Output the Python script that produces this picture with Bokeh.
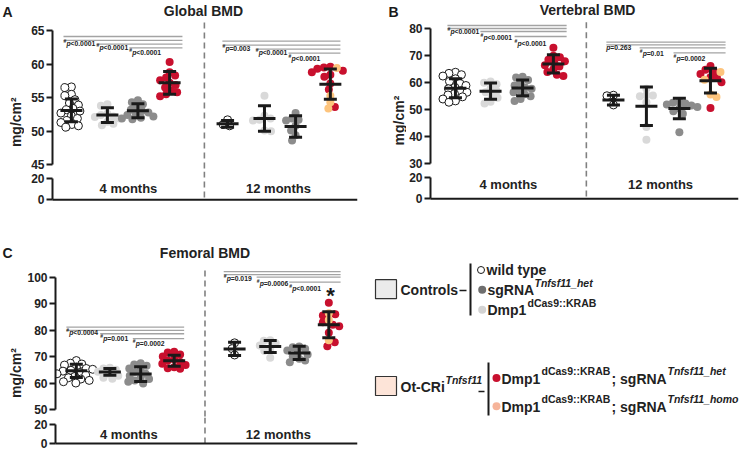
import numpy as np
from math import pi
from bokeh.plotting import figure
from bokeh.layouts import column, row
from bokeh.models import Range1d, FixedTicker
from bokeh.embed import file_html
from bokeh.resources import INLINE
from bokeh.core.properties import value

FONT = "Liberation Sans"
INK = "#1a1a1a"
TXT = "#222222"

# ------------------------------------------------------------------ data
AGES = ["4 months", "12 months"]

# Panel A - Global BMD (mg/cm2); order per age: wild type, Dmp1 dCas9::KRAB, sgRNA het, Ot-CRi
A_WT_4 = [56.6, 56.5, 55.5, 55.3, 54.7, 54.2, 53.9, 53.4, 53.2, 53.0, 52.7, 52.3, 51.9, 51.6, 51.3, 51.0, 50.8, 50.6]
A_LG_4 = [54.0, 53.8, 52.6, 52.4, 52.2, 52.1, 51.9, 51.4, 51.1, 50.9]
A_DG_4 = [54.6, 54.3, 54.0, 53.6, 53.2, 53.0, 52.8, 52.6, 52.4, 52.2, 52.0, 51.9, 51.8]
A_RD_4 = [60.3, 58.8, 58.3, 58.0, 57.6, 57.2, 56.9, 56.5, 56.1, 55.8, 55.5, 55.2]
A_WT_12 = [51.7, 51.0, 50.8]
A_LG_12 = [55.3, 52.3, 51.9, 51.7, 51.6, 50.1, 50.0]
A_DG_12 = [52.7, 51.9, 51.7, 51.6, 50.8, 50.1, 49.4, 48.6]
A_RD_12 = [59.6, 59.5, 59.3, 59.0, 58.8, 58.4, 58.1, 57.1, 56.2, 53.6]
A_OR_12 = [59.4, 55.3, 54.3, 53.4]
A_MEAN = [53.1, 52.4, 53.05, 57.2, 51.1, 51.9, 50.7, 57.0]
A_SD = [1.7, 1.1, 1.05, 1.7, 0.5, 1.9, 1.6, 2.25]
A_P_4M = ["<0.0001", "<0.0001", "<0.0001"]
A_P_12M = ["=0.003", "<0.0001", "<0.0001"]

# Panel B - Vertebral BMD
B_WT_4 = [63.9, 63.5, 63.0, 62.5, 61.5, 60.5, 59.8, 59.0, 58.3, 57.8, 57.0, 56.5, 56.0, 55.5, 54.8, 54.0, 53.3, 52.8]
B_LG_4 = [60.5, 60.0, 59.5, 58.0, 57.0, 56.5, 55.5, 54.5, 53.0, 52.3]
B_DG_4 = [62.2, 62.0, 61.0, 60.0, 59.0, 58.3, 57.8, 57.2, 56.5, 55.8, 55.0, 54.0, 53.3]
B_RD_4 = [73.0, 70.0, 69.5, 68.5, 68.0, 67.5, 66.5, 66.0, 65.0, 64.0, 63.0, 62.5]
B_WT_12 = [55.4, 55.2, 51.8]
B_LG_12 = [57.8, 55.4, 55.3, 55.0, 52.8, 43.6, 38.9]
B_DG_12 = [53.0, 52.6, 52.3, 52.0, 51.6, 51.0, 50.5, 49.5, 48.5, 41.7]
B_RD_12 = [66.2, 64.8, 64.3, 63.3, 62.1, 61.8, 60.2, 50.7]
B_OR_12 = [64.0, 61.1, 55.7, 54.7]
B_MEAN = [58.0, 56.9, 58.1, 67.0, 53.6, 51.3, 50.5, 60.8]
B_SD = [3.5, 3.0, 2.9, 3.4, 1.8, 7.1, 3.8, 4.6]
B_P_4M = ["<0.0001", "<0.0001", "<0.0001"]
B_P_12M = ["=0.263", "=0.01", "=0.0002"]
B_P_12M_HASH = [False, True, True]

# Panel C - Femoral BMD
C_WT_4 = [68.5, 67.5, 67.2, 66.8, 66.0, 65.5, 65.2, 64.8, 64.5, 64.0, 63.5, 63.0, 62.5, 62.0, 61.5, 61.0, 60.5, 60.0]
C_LG_4 = [65.8, 65.5, 65.0, 64.3, 63.5, 62.8, 62.0, 61.6]
C_DG_4 = [67.5, 67.0, 66.5, 65.5, 65.0, 64.2, 63.5, 62.8, 62.0, 61.5, 61.0, 60.5, 59.8]
C_RD_4 = [71.8, 71.5, 70.8, 70.0, 69.0, 68.5, 68.0, 67.3, 66.8, 66.0, 65.6, 65.4]
C_WT_12 = [75.2, 73.0, 70.6]
C_LG_12 = [76.2, 76.0, 75.0, 74.2, 73.0, 72.2, 69.6]
C_DG_12 = [73.8, 73.5, 73.0, 72.3, 71.5, 70.8, 70.0, 69.2, 68.5, 67.9]
C_RD_12 = [90.3, 86.0, 85.5, 83.0, 82.0, 81.5, 79.0, 75.4, 73.9]
C_OR_12 = [86.4, 83.8, 76.2]
C_MEAN = [64.6, 64.2, 63.4, 68.4, 72.9, 73.8, 71.4, 82.0]
C_SD = [2.5, 1.25, 2.8, 2.1, 2.5, 2.3, 2.5, 4.9]
C_P_4M = ["<0.0004", "=0.001", "=0.0002"]
C_P_12M = ["=0.019", "=0.0006", "<0.0001"]

A_TICKS = [45, 50, 55, 60, 65]
B_TICKS = [30, 40, 50, 60, 70, 80]
C_TICKS = [50, 60, 70, 80, 90, 100]
LOW_TICKS = [0, 20]

# ------------------------------------------------------------------ colours
COL_WT = "white"
COL_LG = "#d9d9d9"
COL_DG = "#8c8c8c"
COL_RD = "#c8102e"
COL_OR = "#fdc47d"
PLINE = "#a3a3a3"


def swarm(vals, kx, ky, sep=6.2):
    """deterministic beeswarm offsets (in x data units)"""
    vals = np.asarray(vals, float)
    ys = vals * ky
    order = np.argsort(-vals, kind="stable")
    cands = [0.0]
    for s in np.arange(0.5, 40, 0.5):
        cands += [s, -s]
    placed, off = [], np.zeros(len(vals))
    for n, i in enumerate(order):
        cc = cands if n % 2 == 0 else [-c for c in cands]
        for c in cc:
            if all((c - px) ** 2 + (ys[i] - py) ** 2 >= sep * sep for px, py in placed):
                off[i] = c
                placed.append((c, ys[i]))
                break
    return off / kx


def base_fig(w, h, left, right, yr):
    p = figure(width=w, height=h, x_range=Range1d(0, 10), y_range=Range1d(*yr),
               output_backend="svg", toolbar_location=None, x_axis_location=None,
               min_border_left=left, min_border_right=right, min_border_top=0, min_border_bottom=0)
    p.grid.visible = False
    p.outline_line_color = None
    return p


def style_y(p, ticks):
    ax = p.yaxis[0]
    ax.ticker = FixedTicker(ticks=ticks)
    ax.bounds = (ticks[0], ticks[-1])
    ax.axis_line_width = 2
    ax.axis_line_color = INK
    ax.major_tick_line_width = 2
    ax.major_tick_line_color = INK
    ax.major_tick_out = 6
    ax.major_tick_in = 0
    ax.minor_tick_line_color = None
    ax.major_label_text_font = FONT
    ax.major_label_text_font_style = "bold"
    ax.major_label_text_font_size = "12px"
    ax.major_label_text_color = TXT
    ax.major_label_standoff = 2


def ptext(p, x, y, hashmark, rest):
    xo = 0.0
    if hashmark:
        p.text(x=[x], y=[y], text=["#"], y_offset=-2.5, text_font=value(FONT),
               text_font_size=value("5px"), text_font_style="bold", text_color=TXT,
               text_align="left", text_baseline="middle")
        xo = 3.0
    p.text(x=[x], y=[y], text=["p"], x_offset=xo, text_font=value(FONT),
           text_font_size=value("6.8px"), text_font_style="bold italic", text_color=TXT,
           text_align="left", text_baseline="middle")
    p.text(x=[x], y=[y], text=[rest], x_offset=xo + 4.0, text_font=value(FONT),
           text_font_size=value("6.8px"), text_font_style="bold", text_color=TXT,
           text_align="left", text_baseline="middle")


def label_fig(w, h, letter, lx, ly, lbase, ylx, yly):
    """narrow strip left of a panel holding the panel letter and the y-axis title"""
    p = figure(width=w, height=h, x_range=Range1d(0, w), y_range=Range1d(h, 0),
               output_backend="svg", toolbar_location=None, x_axis_location=None, y_axis_location=None,
               min_border_left=0, min_border_right=0, min_border_top=0, min_border_bottom=0)
    p.grid.visible = False
    p.outline_line_color = None
    p.text(x=[lx], y=[ly], text=[letter], text_font=value(FONT), text_font_size=value("14px"),
           text_font_style="bold", text_color=INK, text_align="left", text_baseline=lbase)
    p.text(x=[ylx], y=[yly], text=["mg/cm²"], angle=pi / 2, text_font=value(FONT),
           text_font_size=value("14px"), text_font_style="bold", text_color=TXT,
           text_align="center", text_baseline="middle")
    return p


def build_panel(S):
    top = base_fig(S["w"], S["top_h"], S["left"], S["right"], S["top_yr"])
    bot = base_fig(S["w"], S["bot_h"], S["left"], S["right"], S["bot_yr"])
    style_y(top, S["ticks"])
    style_y(bot, LOW_TICKS)

    kx = (S["w"] - S["left"] - S["right"]) / 10.0
    ky = S["top_h"] / (S["top_yr"][1] - S["top_yr"][0])

    # dashed separator
    top.segment(x0=[S["dash_x"]], y0=[S["dash_top"]], x1=[S["dash_x"]], y1=[S["top_yr"][0]],
                line_color="#808080", line_width=1.6, line_dash="6 4")
    bot.segment(x0=[S["dash_x"]], y0=[S["bot_yr"][1]], x1=[S["dash_x"]], y1=[0],
                line_color="#808080", line_width=1.6, line_dash="6 4")

    # points (beeswarm)
    for gx, parts in zip(S["gx"], S["groups"]):
        vals, cols = [], []
        for v, c in parts:
            vals += list(v)
            cols += [c] * len(v)
        off = swarm(vals, kx, ky)
        vals = np.array(vals)
        cols = np.array(cols)
        for c in dict.fromkeys(cols):
            m = cols == c
            if c == COL_WT:
                top.scatter(x=gx + off[m], y=vals[m], size=8, fill_color="white",
                            line_color=INK, line_width=1)
            else:
                top.scatter(x=gx + off[m], y=vals[m], size=8, fill_color=c, line_color=None)

    # mean +/- SD
    gxs = np.array(S["gx"])
    mean = np.array(S["mean"])
    sd = np.array(S["sd"])
    top.segment(x0=gxs, y0=mean - sd, x1=gxs, y1=mean + sd, line_color=INK, line_width=3)
    top.rect(x=gxs, y=mean, width=22, height=3, width_units="screen", height_units="screen",
             fill_color=INK, line_color=None)
    top.rect(x=np.concatenate([gxs, gxs]), y=np.concatenate([mean + sd, mean - sd]),
             width=13, height=3, width_units="screen", height_units="screen",
             fill_color=INK, line_color=None)

    # p-value brackets
    for blk in S["pblocks"]:
        top.segment(x0=blk["lx0"], y0=blk["ly"], x1=[blk["lx1"]] * len(blk["ly"]), y1=blk["ly"],
                    line_color=PLINE, line_width=1.3)
        for x, y, h, r in zip(blk["tx"], blk["ty"], blk["hash"], blk["txt"]):
            ptext(top, x, y, h, r)

    # title
    top.text(x=[S["title_x"]], y=[S["title_y"]], text=[S["title"]],
             text_font=value(FONT), text_font_size=value("14px"), text_font_style="bold",
             text_color=TXT, text_align="center", text_baseline=S["title_base"])
    if "star" in S:
        top.text(x=[S["star"][0]], y=[S["star"][1]], text=["*"], text_font=value(FONT),
                 text_font_size=value("22px"), text_font_style="bold", text_color=INK,
                 text_align="center", text_baseline="middle")

    # x axis line and age labels
    bot.segment(x0=[-0.13], y0=[0], x1=[10], y1=[0], line_color=INK, line_width=2)
    bot.text(x=S["month_x"], y=[S["month_y"]] * 2, text=AGES, text_font=value(FONT),
             text_font_size=value("13px"), text_font_style="bold", text_color=TXT,
             text_align="center", text_baseline="middle")

    strip = label_fig(S["lab_w"], S["top_h"] + S["bot_h"], S["letter"], S["letter_x"], S["letter_y"],
                      S["letter_base"], S["ylab_x"], S["ylab_y"])
    return row(strip, column(top, bot, spacing=0), spacing=0)


SPEC_A = dict(
    lab_w=24, w=342, left=28, right=9, top_h=171, bot_h=37,
    top_yr=(44.0, 69.468), bot_yr=(-8.06, 26.2), ticks=A_TICKS,
    gx=[0.62, 1.80, 2.80, 3.84, 5.74, 6.95, 7.97, 9.11], dash_x=4.98, dash_top=66.19,
    groups=[[(A_WT_4, COL_WT)], [(A_LG_4, COL_LG)], [(A_DG_4, COL_DG)], [(A_RD_4, COL_RD)],
            [(A_WT_12, COL_WT)], [(A_LG_12, COL_LG)], [(A_DG_12, COL_DG)],
            [(A_RD_12, COL_RD), (A_OR_12, COL_OR)]],
    mean=A_MEAN, sd=A_SD,
    pblocks=[dict(ly=[64.11, 63.54, 62.97, 62.41], lx0=[0.36, 0.36, 1.44, 2.52], lx1=4.26,
                  tx=[0.36, 1.44, 2.52], ty=[62.99, 62.42, 61.72], hash=[True] * 3, txt=A_P_4M),
             dict(ly=[63.41, 62.81, 62.22, 61.62], lx0=[5.57, 5.57, 6.66, 7.74], lx1=9.44,
                  tx=[5.57, 6.66, 7.74], ty=[62.35, 61.65, 60.76], hash=[True] * 3, txt=A_P_12M)],
    title="Global BMD", title_x=4.95, title_y=69.17, title_base="top",
    letter="A", letter_x=2, letter_y=3, letter_base="top", ylab_x=15, ylab_y=121.7,
    month_x=[2.49, 7.41], month_y=10.46)

SPEC_B = dict(
    lab_w=40, w=342, left=24, right=10, top_h=170, bot_h=38,
    top_yr=(27.52, 90.48), bot_yr=(-8.98, 26.2), ticks=B_TICKS,
    gx=[0.81, 1.95, 2.99, 3.99, 5.94, 7.01, 8.08, 9.09], dash_x=5.06, dash_top=82.4,
    groups=[[(B_WT_4, COL_WT)], [(B_LG_4, COL_LG)], [(B_DG_4, COL_DG)], [(B_RD_4, COL_RD)],
            [(B_WT_12, COL_WT)], [(B_LG_12, COL_LG)], [(B_DG_12, COL_DG)],
            [(B_RD_12, COL_RD), (B_OR_12, COL_OR)]],
    mean=B_MEAN, sd=B_SD,
    pblocks=[dict(ly=[81.22, 80.11, 79.0, 77.15], lx0=[0.55, 0.55, 1.62, 2.73], lx1=4.42,
                  tx=[0.55, 1.62, 2.73], ty=[79.11, 76.89, 74.67], hash=[True] * 3, txt=B_P_4M),
             dict(ly=[75.04, 74.07, 72.96, 71.11], lx0=[5.71, 5.71, 6.79, 7.89], lx1=9.58,
                  tx=[5.71, 6.79, 7.89], ty=[73.19, 70.74, 68.89], hash=B_P_12M_HASH, txt=B_P_12M)],
    title="Vertebral BMD", title_x=5.10, title_y=89.74, title_base="top",
    letter="B", letter_x=22, letter_y=3, letter_base="top", ylab_x=32, ylab_y=120,
    month_x=[2.53, 7.47], month_y=12.96)

SPEC_C = dict(
    lab_w=24, w=342, left=28, right=9, top_h=209, bot_h=33,
    top_yr=(46.98, 125.96), bot_yr=(-7.37, 27.37), ticks=C_TICKS,
    gx=[0.69, 1.80, 2.82, 3.93, 5.93, 7.11, 8.07, 9.05], dash_x=4.95, dash_top=102.5,
    groups=[[(C_WT_4, COL_WT)], [(C_LG_4, COL_LG)], [(C_DG_4, COL_DG)], [(C_RD_4, COL_RD)],
            [(C_WT_12, COL_WT)], [(C_LG_12, COL_LG)], [(C_DG_12, COL_DG)],
            [(C_RD_12, COL_RD), (C_OR_12, COL_OR)]],
    mean=C_MEAN, sd=C_SD,
    pblocks=[dict(ly=[81.12, 79.93, 78.62, 76.75], lx0=[0.36, 0.36, 1.48, 2.56], lx1=4.26,
                  tx=[0.36, 1.48, 2.56], ty=[79.10, 77.01, 74.89], hash=[True] * 3, txt=C_P_4M),
             dict(ly=[102.13, 101.0, 100.0, 98.13], lx0=[5.57, 5.57, 6.66, 7.74], lx1=9.44,
                  tx=[5.57, 6.66, 7.74], ty=[99.40, 97.76, 95.67], hash=[True] * 3, txt=C_P_12M)],
    title="Femoral BMD", title_x=4.95, title_y=109.2, title_base="middle",
    letter="C", letter_x=2, letter_y=44, letter_base="middle", ylab_x=15, ylab_y=164.5,
    month_x=[2.43, 7.38], month_y=9.47, star=(9.11, 93.0))

panel_a = build_panel(SPEC_A)
panel_b = build_panel(SPEC_B)
panel_c = build_panel(SPEC_C)

# ------------------------------------------------------------------ legend
L = figure(width=382, height=242, x_range=Range1d(0, 382), y_range=Range1d(242, 0),
           output_backend="svg", toolbar_location=None, x_axis_location=None, y_axis_location=None,
           min_border_left=0, min_border_right=0, min_border_top=0, min_border_bottom=0)
L.grid.visible = False
L.outline_line_color = None

L.rect(x=[19.5, 19.5], y=[80.7, 177.5], width=21, height=19,
       fill_color=["#ebebeb", "#fde4d8"], line_color="#333333", line_width=1.2)
L.segment(x0=[93, 104, 112, 122], y0=[82, 55, 183, 154], x1=[100, 104, 118, 122], y1=[82, 107, 183, 207],
          line_color=INK, line_width=[1.4, 2, 1.4, 2])
L.scatter(x=[114.5], y=[61.5], size=7, fill_color="white", line_color=INK, line_width=1)
L.scatter(x=[115.7, 115.7, 130, 130], y=[81.3, 101.3, 169.5, 197.7], size=8,
          fill_color=["#6e6e6e", "#d3d3d3", COL_RD, "#f6b49a"], line_color=None)


def ltext(x, y, s, size="14px", style="bold"):
    L.text(x=[x], y=[y], text=[s], text_font=value(FONT), text_font_size=value(size),
           text_font_style=style, text_color=TXT, text_align="left", text_baseline="middle")


ltext(34, 81, "Controls")
ltext(120, 61, "wild type")
ltext(121, 81.5, "sgRNA")
ltext(168, 74.5, "Tnfsf11_het", "10.5px", "bold italic")
ltext(121, 101.5, "Dmp1")
ltext(161, 94.5, "dCas9::KRAB", "10.5px")
ltext(34, 178, "Ot-CRi")
ltext(79, 171, "Tnfsf11", "10.5px", "bold italic")
for yb in (170.5, 198.5):
    ltext(135, yb, "Dmp1")
    ltext(175, yb - 8, "dCas9::KRAB", "10.5px")
    ltext(245, yb, "; sgRNA")
ltext(301, 162.5, "Tnfsf11_het", "10.5px", "bold italic")
ltext(301, 190.5, "Tnfsf11_homo", "10.5px", "bold italic")

layout = column(row(panel_a, panel_b, spacing=0), row(panel_c, L, spacing=0), spacing=0)

open("out.html", "w").write(file_html(layout, INLINE))
